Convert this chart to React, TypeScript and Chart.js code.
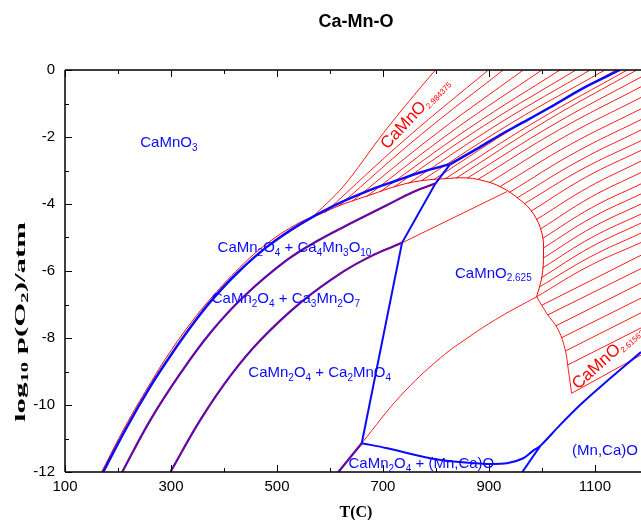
import React, { useEffect, useRef } from "react";
import { Chart, registerables } from "chart.js";

Chart.register(...registerables);

// ---------- axes ----------
const X_MIN = 100;
const X_MAX = 1187;
const Y_MIN = -12;
const Y_MAX = 0;
const X_TICKS = [100, 200, 300, 400, 500, 600, 700, 800, 900, 1000, 1100];
const X_TICK_LABELS = ["100", "", "300", "", "500", "", "700", "", "900", "", "1100"];
const Y_TICKS = [0, -1, -2, -3, -4, -5, -6, -7, -8, -9, -10, -11, -12];
const Y_TICK_LABELS = ["0", "", "-2", "", "-4", "", "-6", "", "-8", "", "-10", "", "-12"];

const TITLE = "Ca-Mn-O";
const X_TITLE = "T(C)";
const Y_TITLE = "log_10 p(O_2)/atm";

// ---------- blue phase boundaries ----------
const curve1LowT = [172, 217, 261, 299, 342, 377, 425, 481, 544, 606, 676, 726, 770, 827];
const curve1LowL = [-12, -10.65, -9.45, -8.53, -7.57, -6.87, -6.06, -5.28, -4.6, -4.06, -3.58, -3.3, -3.06, -2.81];
const curve1HighT = [827, 883, 921, 959, 1015, 1078, 1147];
const curve1HighL = [-2.81, -2.3, -1.94, -1.61, -1.12, -0.54, 0];

const curve2T = [208, 261, 318, 374, 437, 519, 582, 644, 708, 757, 799];
const curve2L = [-12, -10.45, -9.05, -7.85, -6.77, -5.67, -5.05, -4.54, -4.03, -3.64, -3.39];

const curve3T = [299, 356, 412, 469, 544, 625, 685, 736];
const curve3L = [-12, -10.43, -9.13, -8.06, -6.95, -6.02, -5.5, -5.16];

const steepT = [827, 799, 736, 660];
const steepL = [-2.81, -3.39, -5.16, -11.14];

const cliffT = [660, 616];
const cliffL = [-11.14, -12];

const bottomT = [660, 708, 789, 833, 896, 934, 965, 983, 997, 1034, 1072, 1110, 1187];
const bottomL = [-11.14, -11.29, -11.59, -11.69, -11.76, -11.74, -11.59, -11.37, -11.22, -10.6, -10.0, -9.46, -8.42];

const dropT = [997, 963];
const dropL = [-11.22, -12];

// ---------- red perovskite contours ----------
const outerT = [169, 214, 258, 296, 339, 374, 422, 478, 542, 582, 619, 676, 727, 770, 821, 855, 883, 921, 959, 983, 1000, 1003, 1000, 990];
const outerL = [-12, -10.63, -9.43, -8.47, -7.52, -6.84, -6.02, -5.22, -4.56, -4.3, -4.04, -3.73, -3.46, -3.31, -3.24, -3.22, -3.28, -3.48, -3.88, -4.27, -4.87, -5.46, -6.17, -6.77];

const sideT = [990, 1009, 1031, 1044, 1050, 1056];
const sideL = [-6.77, -7.26, -7.76, -8.36, -8.96, -9.65];

const lowerEdgeT = [990, 921, 865, 808, 733, 660];
const lowerEdgeL = [-6.77, -7.37, -7.94, -8.6, -9.73, -11.14];

const connectorT = [736, 934];
const connectorL = [-5.16, -3.63];

const firstContourT = [563, 625, 701, 751, 799];
const firstContourL = [-4.45, -3.48, -1.88, -0.9, 0];

const upperStartT = [591, 616, 642, 669, 695, 721, 748, 772, 795, 817, 838, 859, 880, 900, 921, 938, 953, 966, 980, 989, 997, 1001, 1003, 1003, 1001, 998, 995, 990];
const upperStartL = [-4.25, -4.07, -3.92, -3.78, -3.63, -3.49, -3.39, -3.31, -3.28, -3.25, -3.23, -3.23, -3.26, -3.37, -3.48, -3.66, -3.82, -4.0, -4.21, -4.47, -4.75, -5.03, -5.31, -5.61, -5.91, -6.21, -6.48, -6.77];
const upperMidT = [745, 771, 803, 834, 864, 892, 919, 945, 967, 989, 1008, 1023, 1033, 1043, 1054, 1062, 1070, 1076, 1083, 1088, 1092, 1094, 1095, 1095, 1094, 1092, 1091, 1088];
const upperMidL = [-2.03, -1.94, -1.87, -1.79, -1.72, -1.65, -1.6, -1.56, -1.54, -1.53, -1.52, -1.62, -1.78, -1.99, -2.22, -2.47, -2.71, -2.96, -3.2, -3.5, -3.8, -4.11, -4.4, -4.7, -5.0, -5.29, -5.58, -5.86];
const upperEndT = [899, 927, 965, 1000, 1034, 1064, 1091, 1119, 1140, 1161, 1179, 1187, 1187, 1187, 1187, 1187, 1187, 1187, 1187, 1187, 1187, 1187, 1187, 1187, 1187, 1187, 1187, 1187];
const upperEndL = [0, 0, 0, 0, 0, 0, 0, 0, 0, 0, 0, -0.21, -0.5, -0.82, -1.16, -1.48, -1.79, -2.11, -2.4, -2.72, -3.06, -3.4, -3.7, -4.0, -4.3, -4.57, -4.87, -5.15];

const lowerStartT = [1000, 1011, 1026, 1036, 1044, 1048];
const lowerStartL = [-7.02, -7.31, -7.64, -8.0, -8.39, -8.81];
const lowerEndT = [1187, 1187, 1187, 1187, 1187, 1187];
const lowerEndL = [-5.53, -5.93, -6.36, -6.81, -7.25, -7.7];

const lastContourT = [1056, 1187];
const lastContourL = [-9.65, -8.51];

// ---------- region labels ----------
const BLUE = "rgb(10,10,255)";
const RED = "rgb(255,0,0)";
const LABELS = [
  { text: "CaMnO_3", t: 242, l: -2.3, color: BLUE, size: 15, sub: 10, dy: 4, angle: 0 },
  { text: "CaMn_2O_4 + Ca_4Mn_3O_10", t: 388, l: -5.43, color: BLUE, size: 15, sub: 10, dy: 4, angle: 0 },
  { text: "CaMn_2O_4 + Ca_3Mn_2O_7", t: 377, l: -6.96, color: BLUE, size: 15, sub: 10, dy: 4, angle: 0 },
  { text: "CaMn_2O_4 + Ca_2MnO_4", t: 446, l: -9.16, color: BLUE, size: 15, sub: 10, dy: 4, angle: 0 },
  { text: "CaMnO_2.625", t: 836, l: -6.21, color: BLUE, size: 15, sub: 10, dy: 3, angle: 0 },
  { text: "(Mn,Ca)O", t: 1057, l: -11.49, color: BLUE, size: 15, sub: 10, dy: 4, angle: 0 },
  { text: "CaMn_2O_4 + (Mn,Ca)O", t: 635, l: -11.88, color: BLUE, size: 15, sub: 10, dy: 4, angle: 0 },
  { text: "CaMnO_2.984375", t: 708, l: -2.39, color: RED, size: 17, sub: 8, dy: 3, angle: -47 },
  { text: "CaMnO_2.615625", t: 1068, l: -9.55, color: RED, size: 17, sub: 8, dy: 3, angle: -42 },
];

const SANS = '"Liberation Sans", Arial, sans-serif';
const SERIF = '"Liberation Serif", "Times New Roman", serif';

function pts(T: number[], L: number[]) {
  return T.map((t, i) => ({ x: t, y: L[i] }));
}

type Seg = { t: string; sub: boolean };
function parseRich(s: string): Seg[] {
  const out: Seg[] = [];
  let buf = "";
  let i = 0;
  while (i < s.length) {
    if (s[i] === "_") {
      if (buf) out.push({ t: buf, sub: false });
      buf = "";
      i++;
      let sb = "";
      while (i < s.length && /[0-9.]/.test(s[i])) sb += s[i++];
      out.push({ t: sb, sub: true });
    } else {
      buf += s[i++];
    }
  }
  if (buf) out.push({ t: buf, sub: false });
  return out;
}

function richWidth(ctx: CanvasRenderingContext2D, segs: Seg[], main: string, sub: string) {
  let w = 0;
  for (const s of segs) {
    ctx.font = s.sub ? sub : main;
    w += ctx.measureText(s.t).width;
  }
  return w;
}

function drawRich(ctx: CanvasRenderingContext2D, segs: Seg[], x: number, y: number, main: string, sub: string, dy: number) {
  let cx = x;
  for (const s of segs) {
    ctx.font = s.sub ? sub : main;
    ctx.fillText(s.t, cx, y + (s.sub ? dy : 0));
    cx += ctx.measureText(s.t).width;
  }
}

const overlayPlugin = {
  id: "overlay",
  afterDatasetsDraw(chart: any) {
    const { ctx, chartArea: a } = chart;
    const xs = chart.scales.x;
    const ys = chart.scales.y;
    ctx.save();
    // frame
    ctx.strokeStyle = "#000";
    ctx.lineWidth = 1.5;
    ctx.beginPath();
    ctx.moveTo(a.left, a.top);
    ctx.lineTo(a.right, a.top);
    ctx.moveTo(a.left, a.top);
    ctx.lineTo(a.left, a.bottom);
    ctx.moveTo(a.left, a.bottom);
    ctx.lineTo(a.right, a.bottom);
    ctx.stroke();
    // inward ticks
    ctx.lineWidth = 1;
    ctx.beginPath();
    X_TICKS.forEach((v, i) => {
      const px = Math.round(xs.getPixelForValue(v)) + 0.5;
      const len = X_TICK_LABELS[i] ? 7 : 4;
      ctx.moveTo(px, a.bottom);
      ctx.lineTo(px, a.bottom - len);
      ctx.moveTo(px, a.top);
      ctx.lineTo(px, a.top + len);
    });
    Y_TICKS.forEach((v, i) => {
      const py = Math.round(ys.getPixelForValue(v)) + 0.5;
      const len = Y_TICK_LABELS[i] ? 7 : 4;
      ctx.moveTo(a.left, py);
      ctx.lineTo(a.left + len, py);
    });
    ctx.stroke();

    // region labels
    ctx.textBaseline = "alphabetic";
    ctx.textAlign = "left";
    for (const lb of LABELS) {
      const segs = parseRich(lb.text);
      const px = xs.getPixelForValue(lb.t);
      const py = ys.getPixelForValue(lb.l);
      ctx.save();
      ctx.beginPath();
      ctx.rect(a.left, a.top, a.right - a.left, a.bottom - a.top);
      ctx.clip();
      ctx.translate(px, py);
      ctx.rotate((lb.angle * Math.PI) / 180);
      ctx.fillStyle = lb.color;
      drawRich(ctx, segs, 0, 0, `${lb.size}px ${SANS}`, `${lb.sub}px ${SANS}`, lb.dy);
      ctx.restore();
    }

    // title
    ctx.fillStyle = "#000";
    ctx.textAlign = "center";
    ctx.font = `bold 18px ${SANS}`;
    ctx.fillText(TITLE, 356, 27);

    // x title
    ctx.font = `bold 16px ${SERIF}`;
    ctx.fillText(X_TITLE, 356, 517);

    // y title (stretched along its length as in the reference)
    ctx.textAlign = "left";
    const ysegs = parseRich(Y_TITLE);
    const mainF = `bold 15px ${SERIF}`;
    const subF = `bold 10px ${SERIF}`;
    const w = richWidth(ctx, ysegs, mainF, subF);
    const target = 200;
    ctx.save();
    ctx.translate(20, 322);
    ctx.rotate(-Math.PI / 2);
    ctx.scale(target / w, 1);
    drawRich(ctx, ysegs, -w / 2, 5, mainF, subF, 3);
    ctx.restore();

    ctx.restore();
  },
};

export default function App() {
  const ref = useRef<HTMLCanvasElement>(null);

  useEffect(() => {
    document.body.style.margin = "0";
    const canvas = ref.current!;
    const line = (data: any[], color: string, width: number, order: number, tension = 0) => ({
      data,
      showLine: true,
      borderColor: color,
      backgroundColor: color,
      borderWidth: width,
      pointRadius: 0,
      pointHoverRadius: 0,
      fill: false,
      tension,
      order,
    });

    const PURPLE_RED = "rgba(200,0,60,0.75)";
    const PURPLE_BLUE = "rgb(60,0,200)";
    const datasets: any[] = [];
    // purple overlay (red over blue)
    datasets.push(line(pts(curve2T, curve2L), PURPLE_RED, 1, 0, 0.4));
    datasets.push(line(pts(curve3T, curve3L), PURPLE_RED, 1, 0, 0.4));
    datasets.push(line(pts(cliffT, cliffL), PURPLE_RED, 1, 0));
    // blue
    datasets.push(line(pts(curve1LowT, curve1LowL), BLUE, 2.5, 1, 0.4));
    datasets.push(line(pts(curve1HighT, curve1HighL), BLUE, 2.5, 1, 0.3));
    datasets.push(line(pts(curve2T, curve2L), PURPLE_BLUE, 2.2, 2, 0.4));
    datasets.push(line(pts(curve3T, curve3L), PURPLE_BLUE, 2.2, 2, 0.4));
    datasets.push(line(pts(cliffT, cliffL), PURPLE_BLUE, 2.2, 2));
    datasets.push(line(pts(steepT, steepL), BLUE, 2, 1));
    datasets.push(line(pts(bottomT, bottomL), BLUE, 2, 1, 0.35));
    datasets.push(line(pts(dropT, dropL), BLUE, 2, 1));
    // red
    datasets.push(line(pts(outerT, outerL), RED, 1, 5, 0.4));
    datasets.push(line(pts(sideT, sideL), RED, 0.9, 5, 0.4));
    datasets.push(line(pts(lowerEdgeT, lowerEdgeL), RED, 0.9, 5, 0.4));
    datasets.push(line(pts(connectorT, connectorL), RED, 0.9, 5));
    datasets.push(line(pts(firstContourT, firstContourL), RED, 0.9, 5, 0.3));
    datasets.push(line(pts(lastContourT, lastContourL), RED, 0.9, 5));
    upperStartT.forEach((t, i) => {
      datasets.push(
        line(pts([t, upperMidT[i], upperEndT[i]], [upperStartL[i], upperMidL[i], upperEndL[i]]), RED, 0.9, 6, 0.4)
      );
    });
    lowerStartT.forEach((t, i) => {
      datasets.push(line(pts([t, lowerEndT[i]], [lowerStartL[i], lowerEndL[i]]), RED, 0.9, 6));
    });

    const chart = new Chart(canvas, {
      type: "scatter",
      data: { datasets },
      options: {
        responsive: false,
        animation: false,
        devicePixelRatio: 1,
        layout: { padding: { top: 70, left: 0, right: 0, bottom: 0 } },
        plugins: { legend: { display: false }, tooltip: { enabled: false }, title: { display: false } },
        events: [],
        scales: {
          x: {
            type: "linear",
            min: X_MIN,
            max: X_MAX,
            grid: { display: false, drawTicks: false },
            border: { display: false },
            afterBuildTicks: (s: any) => {
              s.ticks = X_TICKS.map((v) => ({ value: v }));
            },
            afterFit: (s: any) => {
              s.height = 48;
            },
            ticks: {
              autoSkip: false,
              maxRotation: 0,
              padding: 6,
              color: "#000",
              font: { family: SANS, size: 15 },
              callback: (v: any) => {
                const i = X_TICKS.indexOf(Number(v));
                return i >= 0 ? X_TICK_LABELS[i] : "";
              },
            },
          },
          y: {
            type: "linear",
            min: Y_MIN,
            max: Y_MAX,
            grid: { display: false, drawTicks: false },
            border: { display: false },
            afterBuildTicks: (s: any) => {
              s.ticks = Y_TICKS.map((v) => ({ value: v }));
            },
            afterFit: (s: any) => {
              s.width = 65;
            },
            ticks: {
              autoSkip: false,
              padding: 10,
              color: "#000",
              font: { family: SANS, size: 15 },
              callback: (v: any) => {
                const i = Y_TICKS.indexOf(Number(v));
                return i >= 0 ? Y_TICK_LABELS[i] : "";
              },
            },
          },
        },
      } as any,
      plugins: [overlayPlugin],
    });
    return () => chart.destroy();
  }, []);

  return (
    <div style={{ width: 641, height: 520 }}>
      <canvas ref={ref} width={641} height={520} style={{ width: 641, height: 520, display: "block" }} />
    </div>
  );
}
